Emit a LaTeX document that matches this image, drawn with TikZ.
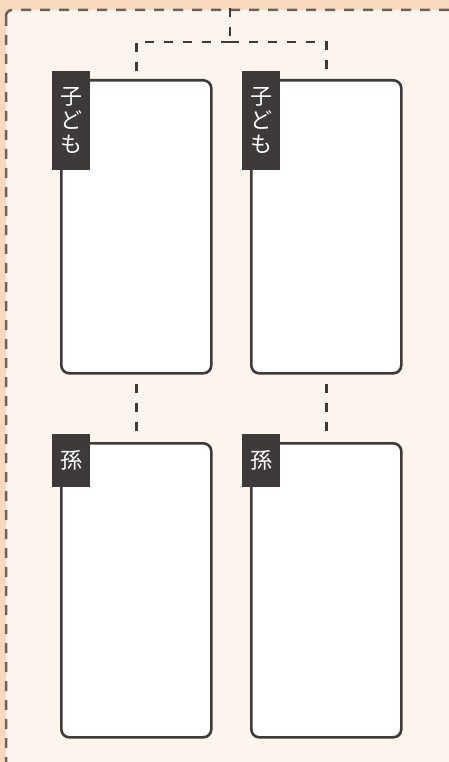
\documentclass[tikz,border=0pt]{standalone}
\usepackage{fontspec}
\newfontfamily\cjk{Noto Sans CJK JP}
\definecolor{peach}{HTML}{F8D9BD}
\definecolor{cream}{HTML}{FDF4EE}
\definecolor{dark}{HTML}{3E3A39}
\definecolor{frame}{HTML}{6B625E}
\begin{document}
\begin{tikzpicture}[x=1pt,y=-1pt,
  outerframe/.style={draw=frame, line width=2.5pt, dash pattern=on 10pt off 9pt},
  conn/.style={draw=dark, line width=2.4pt, dash pattern=on 9pt off 10pt},
  box/.style={draw=dark, fill=white, line width=2.6pt, rounded corners=8pt,
    minimum width=150pt, inner sep=0pt, anchor=north west},
  tagbox/.style={fill=dark, text=white, minimum width=38pt, inner sep=0pt,
    align=center, anchor=north west, font=\cjk\fontsize{22}{24}\selectfont}]
\useasboundingbox (0,0) rectangle (449,762);
\clip (0,0) rectangle (449,762);
\fill[peach] (0,0) rectangle (449,762);
\draw[outerframe, fill=cream, rounded corners=6pt] (6,10) rectangle (480,800);
% boxes
\node[box, minimum height=293pt] (c1) at (60,79) {};
\node[box, minimum height=293pt] (c2) at (250,79) {};
\node[box, minimum height=294pt] (g1) at (60,442) {};
\node[box, minimum height=294pt] (g2) at (250,442) {};
% tags
\node[tagbox, minimum height=99pt] (t1) at (52,71) {子\\ど\\も};
\node[tagbox, minimum height=99pt] (t2) at (242,71) {子\\ど\\も};
\node[tagbox, minimum height=53pt] (t3) at (52,434) {孫};
\node[tagbox, minimum height=53pt] (t4) at (242,434) {孫};
% connectors
\coordinate (top) at (230,8);
\coordinate (split) at (230,42);
\draw[conn] (top) -- (split);
\draw[conn, shorten >=8pt] (split) -| (c1.north);
\draw[conn, shorten >=8pt] (split) -| (c2.north);
\draw[conn, shorten <=9pt, shorten >=8pt] (c1.south) -- (g1.north);
\draw[conn, shorten <=9pt, shorten >=8pt] (c2.south) -- (g2.north);
\end{tikzpicture}
\end{document}
